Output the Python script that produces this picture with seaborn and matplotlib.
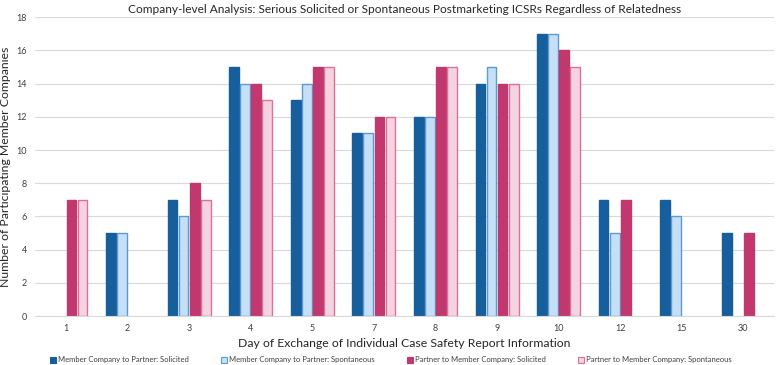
import numpy as np
import pandas as pd
import matplotlib.pyplot as plt
from matplotlib.patches import Patch
import seaborn as sns

days = ["1", "2", "3", "4", "5", "7", "8", "9", "10", "12", "15", "30"]
series_names = [
    "Member Company to Partner: Solicited",
    "Member Company to Partner: Spontaneous",
    "Partner to Member Company: Solicited",
    "Partner to Member Company: Spontaneous",
]
mc_solicited = [np.nan, 5, 7, 15, 13, 11, 12, 14, 17, 7, 7, 5]
mc_spontaneous = [np.nan, 5, 6, 14, 14, 11, 12, 15, 17, 5, 6, np.nan]
p_solicited = [7, np.nan, 8, 14, 15, 12, 15, 14, 16, 7, np.nan, 5]
p_spontaneous = [7, np.nan, 7, 13, 15, 12, 15, 14, 15, np.nan, np.nan, np.nan]

fills = ["#175e9c", "#c5e0f6", "#c1386f", "#f6d3e1"]
edges = ["#175e9c", "#5b9bd5", "#c1386f", "#dc6f9c"]

# long-form table for seaborn
rows = []
for name, vals in zip(series_names, [mc_solicited, mc_spontaneous, p_solicited, p_spontaneous]):
    for d, v in zip(days, vals):
        rows.append({"Day": d, "Series": name, "Count": v})
df = pd.DataFrame(rows)

sns.set_style("white")
plt.rcParams["font.family"] = ["Lato", "DejaVu Sans"]

fig, ax = plt.subplots(figsize=(7.82, 3.65), dpi=100)
sns.barplot(data=df, x="Day", y="Count", hue="Series", order=days,
            hue_order=series_names, palette=fills, saturation=1, width=0.72, gap=0.12,
            errorbar=None, ax=ax, linewidth=1.0, legend=False)

for cont, ec in zip(ax.containers, edges):
    for p in cont:
        p.set_edgecolor(ec)

ax.set_ylim(0, 18)
ax.set_yticks(range(0, 19, 2))
ax.yaxis.grid(True, color="#d9d9d9", linewidth=0.8)
ax.set_axisbelow(True)
for s in ["top", "right", "left"]:
    ax.spines[s].set_visible(False)
ax.spines["bottom"].set_color("#d9d9d9")
ax.tick_params(axis="both", length=0, labelsize=6.5, colors="#404040", pad=6)

ax.set_title("Company-level Analysis: Serious Solicited or Spontaneous Postmarketing ICSRs Regardless of Relatedness",
             fontsize=8.6, color="#262626", pad=3)
ax.set_xlabel("Day of Exchange of Individual Case Safety Report Information", fontsize=8.8, color="#262626", labelpad=3)
ax.set_ylabel("Number of Participating Member Companies", fontsize=8.8, color="#262626", labelpad=4)

handles = [Patch(facecolor=f, edgecolor=e, linewidth=0.8) for f, e in zip(fills, edges)]
fig.legend(handles, series_names, loc="center", bbox_to_anchor=(0.5, 0.014), ncol=4, frameon=False,
           fontsize=5.5, handlelength=0.75, handleheight=0.75, columnspacing=4.2, handletextpad=0.3,
           labelcolor="#404040")

fig.subplots_adjust(left=0.045, right=0.99, top=0.953, bottom=0.134)
fig.savefig("out.png", dpi=100)
